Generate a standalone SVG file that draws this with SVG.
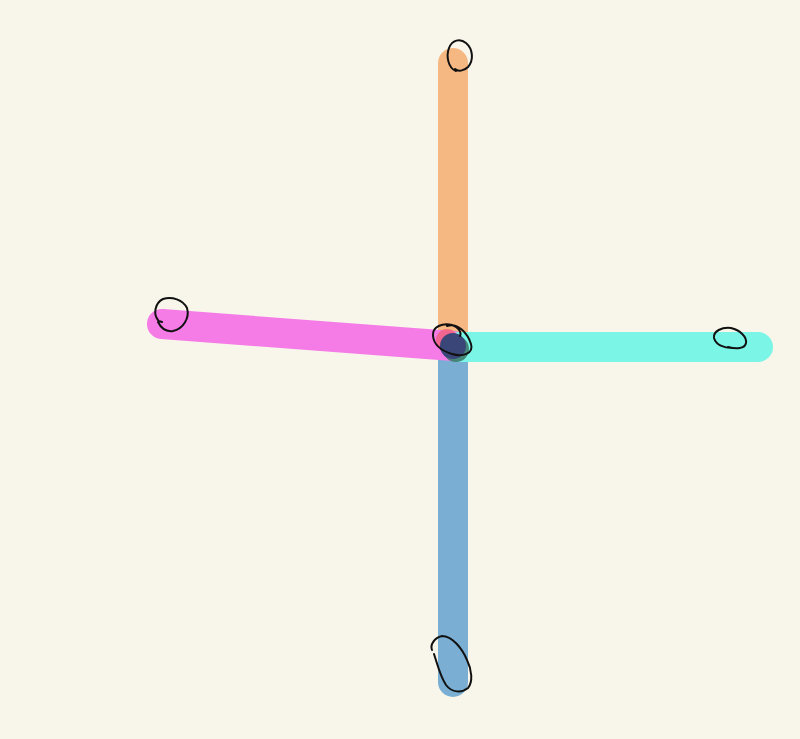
<svg xmlns="http://www.w3.org/2000/svg" width="800" height="739" viewBox="0 0 800 739">
<style>
.bar{fill:none;stroke-linecap:round;stroke-width:30}
.loop{fill:none;stroke:#111;stroke-width:2;stroke-linecap:round;stroke-linejoin:round}
</style>
<rect width="800" height="739" fill="#f8f6ea"/>
<g id="connectors">
<line class="bar" x1="453" y1="63" x2="453" y2="346" stroke="#f6b882"/>
<line class="bar" x1="453" y1="346" x2="453" y2="682" stroke="#7aafd3"/>
<line class="bar" x1="162" y1="324" x2="453" y2="346" stroke="#f57ce7"/>
<line class="bar" x1="460" y1="347" x2="758" y2="347" stroke="#7bf5e6"/>
</g>
<g id="center">
<circle cx="447" cy="340" r="11" fill="#f0607a" opacity="0.8"/>
<circle cx="456" cy="349" r="13" fill="#3e7a6c" opacity="0.9"/>
<circle cx="453" cy="346" r="13" fill="#3a4677"/>
<path class="loop" d="M447 326 C458 322 468 334 471 344 C474 354 462 357 452 354 C442 351 434 345 433 336 C432 326 443 323 452 325 C458 327 462 332 460 336"/>
</g>
<g id="top">
<path class="loop" d="M456 71 C448 68 446 56 449 48 C452 40 460 38 466 43 C473 49 474 60 468 67 C464 71 458 72 455 69"/>
</g>
<g id="left">
<path class="loop" d="M158 320 C153 314 155 303 163 299 C172 296 183 300 187 308 C190 318 183 329 173 331 C166 332 161 328 158 322 C158 321 160 321 162 322"/>
</g>
<g id="right">
<path class="loop" d="M732 348 C724 348 716 345 714 338 C713 331 722 327 731 328 C740 330 747 337 746 343 C745 349 736 349 728 347"/>
</g>
<g id="bottom">
<path class="loop" d="M434 654 C437 663 440 676 446 685 C452 693 462 693 468 688 C473 682 472 670 467 660 C462 648 452 636 442 636 C434 638 430 645 432 650"/>
</g>
</svg>
